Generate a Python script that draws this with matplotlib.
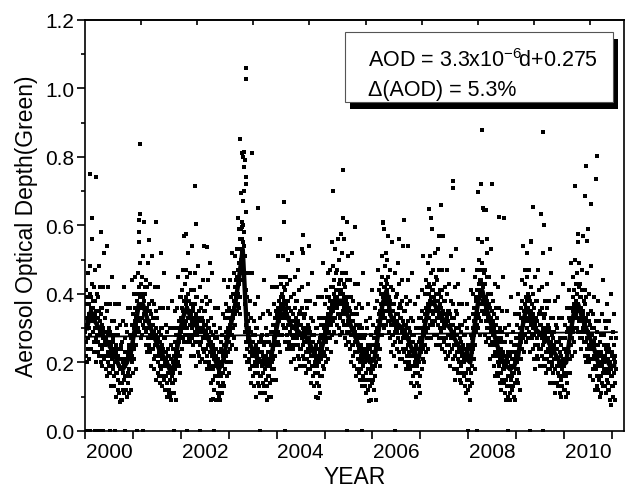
import matplotlib
matplotlib.use("Agg")
import matplotlib.pyplot as plt
from matplotlib.patches import Rectangle
import numpy as np

plt.rcParams['font.family'] = ['Liberation Sans', 'DejaVu Sans']
plt.rcParams['mathtext.fontset'] = 'custom'
plt.rcParams['mathtext.rm'] = 'Liberation Sans'
plt.rcParams['mathtext.it'] = 'Liberation Sans:italic'

first_year = 2000

# monthly mean AOD (Jan..Dec)
monthly_2000 = [0.30, 0.35, 0.32, 0.30, 0.28, 0.26, 0.24, 0.22, 0.19, 0.18, 0.20, 0.23]
monthly_2001 = [0.30, 0.37, 0.37, 0.33, 0.30, 0.27, 0.24, 0.22, 0.20, 0.17, 0.20, 0.27]
monthly_2002 = [0.33, 0.36, 0.33, 0.31, 0.30, 0.30, 0.28, 0.25, 0.21, 0.18, 0.20, 0.26]
monthly_2003 = [0.31, 0.36, 0.44, 0.53, 0.30, 0.25, 0.22, 0.21, 0.20, 0.19, 0.21, 0.27]
monthly_2004 = [0.33, 0.37, 0.34, 0.31, 0.30, 0.29, 0.28, 0.27, 0.25, 0.22, 0.21, 0.25]
monthly_2005 = [0.30, 0.34, 0.38, 0.38, 0.38, 0.35, 0.31, 0.28, 0.25, 0.22, 0.21, 0.20]
monthly_2006 = [0.21, 0.29, 0.37, 0.41, 0.34, 0.31, 0.31, 0.30, 0.28, 0.25, 0.22, 0.21]
monthly_2007 = [0.27, 0.33, 0.38, 0.37, 0.35, 0.33, 0.31, 0.30, 0.27, 0.25, 0.23, 0.21]
monthly_2008 = [0.20, 0.30, 0.38, 0.41, 0.36, 0.32, 0.28, 0.24, 0.21, 0.19, 0.18, 0.19]
monthly_2009 = [0.22, 0.30, 0.36, 0.34, 0.30, 0.29, 0.28, 0.27, 0.25, 0.23, 0.21, 0.19]
monthly_2010 = [0.20, 0.28, 0.35, 0.37, 0.33, 0.30, 0.27, 0.24, 0.20, 0.20, 0.21, 0.19]
monthly_2011 = [0.19]

# daily retrievals, AOD x 100, one string per month
daily_2000 = [
    "29 37 22 31 41 26 33 20 30 39 24 32 46 27 34 21",
    "37 30 40 33 48 28 35 39 24 36 43 32 56 34 29 38",
    "29 36 26 42 32 23 34 38 30 47 27 33 20 35 40 31",
    "31 28 39 23 33 26 48 30 22 35 29 42 25 32 20 36",
    "28 34 24 31 19 36 27 42 22 30 25 52 29 21 33 26",
    "25 33 18 27 37 22 29 16 26 35 20 28 42 23 30 17",
    "26 19 29 22 37 17 24 28 13 25 32 21 45 23 18 27",
    "19 26 16 32 22 13 24 28 20 37 17 23 10 25 30 21",
    "20 17 28 12 22 15 37 19 11 24 18 31 14 21 9 25",
    "18 24 14 21 9 26 17 32 12 20 15 42 19 11 23 16",
    "19 27 12 21 31 16 23 10 20 29 14 22 36 17 24 11",
    "25 18 28 21 36 16 23 27 12 24 31 20 44 22 17 26",
]
daily_2001 = [
    "27 34 24 40 30 21 32 36 28 45 25 31 18 33 38 29",
    "38 35 46 30 40 33 55 37 29 42 36 49 32 39 27 43",
    "37 43 33 40 28 45 36 51 31 39 34 61 38 30 42 35",
    "32 40 25 34 44 29 36 23 33 42 27 35 49 30 37 24",
    "32 25 35 28 43 23 30 34 19 31 38 27 51 29 24 33",
    "24 31 21 37 27 18 29 33 25 42 22 28 15 30 35 26",
    "25 22 33 17 27 20 42 24 16 29 23 36 19 26 14 30",
    "22 28 18 25 13 30 21 36 16 24 19 46 23 15 27 20",
    "19 27 12 21 31 16 23 10 20 29 14 22 36 17 24 11",
    "19 12 22 15 30 10 17 21 9 18 25 14 38 16 11 20",
    "17 24 14 30 20 11 22 26 18 35 15 21 9 23 28 19",
    "28 25 36 20 30 23 45 27 19 32 26 39 22 29 17 33",
]
daily_2002 = [
    "33 39 29 36 24 41 32 47 27 35 30 57 34 26 38 31",
    "35 43 28 37 47 32 39 26 36 45 30 38 52 33 40 27",
    "35 28 38 31 46 26 33 37 22 34 41 30 54 32 27 36",
    "28 35 25 41 31 22 33 37 29 46 26 32 19 34 39 30",
    "31 28 39 23 33 26 48 30 22 35 29 42 25 32 20 36",
    "30 36 26 33 21 38 29 44 24 32 27 54 31 23 35 28",
    "27 35 20 29 39 24 31 18 28 37 22 30 44 25 32 19",
    "27 20 30 23 38 18 25 29 14 26 33 22 46 24 19 28",
    "18 25 15 31 21 12 23 27 19 36 16 22 9 24 29 20",
    "19 16 27 11 21 14 36 18 10 23 17 30 13 20 9 24",
    "20 26 16 23 11 28 19 34 14 22 17 44 21 13 25 18",
    "25 33 18 27 37 22 29 16 26 35 20 28 42 23 30 17",
]
daily_2003 = [
    "33 26 36 29 44 24 31 35 20 32 39 28 52 30 25 34",
    "33 40 30 46 36 27 38 42 34 51 31 37 24 39 44 35",
    "45 42 53 37 47 40 62 44 36 49 43 56 39 46 34 50",
    "53 59 49 56 44 61 52 67 47 55 50 77 54 46 58 51",
    "29 37 22 31 41 26 33 20 30 39 24 32 46 27 34 21",
    "27 20 30 23 38 18 25 29 14 26 33 22 46 24 19 28",
    "19 26 16 32 22 13 24 28 20 37 17 23 10 25 30 21",
    "22 19 30 14 24 17 39 21 13 26 20 33 16 23 11 27",
    "20 26 16 23 11 28 19 34 14 22 17 44 21 13 25 18",
    "18 26 11 20 30 15 22 9 19 28 13 21 35 16 23 10",
    "23 16 26 19 34 14 21 25 10 22 29 18 42 20 15 24",
    "24 31 21 37 27 18 29 33 25 42 22 28 15 30 35 26",
]
daily_2004 = [
    "34 31 42 26 36 29 51 33 25 38 32 45 28 35 23 39",
    "37 43 33 40 28 45 36 51 31 39 34 61 38 30 42 35",
    "33 41 26 35 45 30 37 24 34 43 28 36 50 31 38 25",
    "33 26 36 29 44 24 31 35 20 32 39 28 52 30 25 34",
    "27 34 24 40 30 21 32 36 28 45 25 31 18 33 38 29",
    "30 27 38 22 32 25 47 29 21 34 28 41 24 31 19 35",
    "28 34 24 31 19 36 27 42 22 30 25 52 29 21 33 26",
    "26 34 19 28 38 23 30 17 27 36 21 29 43 24 31 18",
    "27 20 30 23 38 18 25 29 14 26 33 22 46 24 19 28",
    "19 26 16 32 22 13 24 28 20 37 17 23 10 25 30 21",
    "22 19 30 14 24 17 39 21 13 26 20 33 16 23 11 27",
    "25 31 21 28 16 33 24 39 19 27 22 49 26 18 30 23",
]
daily_2005 = [
    "29 37 22 31 41 26 33 20 30 39 24 32 46 27 34 21",
    "36 29 39 32 47 27 34 38 23 35 42 31 55 33 28 37",
    "35 42 32 48 38 29 40 44 36 53 33 39 26 41 46 37",
    "39 36 47 31 41 34 56 38 30 43 37 50 33 40 28 44",
    "38 44 34 41 29 46 37 52 32 40 35 62 39 31 43 36",
    "34 42 27 36 46 31 38 25 35 44 29 37 51 32 39 26",
    "33 26 36 29 44 24 31 35 20 32 39 28 52 30 25 34",
    "25 32 22 38 28 19 30 34 26 43 23 29 16 31 36 27",
    "26 23 34 18 28 21 43 25 17 30 24 37 20 27 15 31",
    "22 28 18 25 13 30 21 36 16 24 19 46 23 15 27 20",
    "20 28 13 22 32 17 24 11 21 30 15 23 37 18 25 12",
    "22 15 25 18 33 13 20 24 9 21 28 17 41 19 14 23",
]
daily_2006 = [
    "18 25 15 31 21 12 23 27 19 36 16 22 9 24 29 20",
    "30 27 38 22 32 25 47 29 21 34 28 41 24 31 19 35",
    "37 43 33 40 28 45 36 51 31 39 34 61 38 30 42 35",
    "40 48 33 42 52 37 44 31 41 50 35 43 57 38 45 32",
    "36 29 39 32 47 27 34 38 23 35 42 31 55 33 28 37",
    "28 35 25 41 31 22 33 37 29 46 26 32 19 34 39 30",
    "32 29 40 24 34 27 49 31 23 36 30 43 26 33 21 37",
    "30 36 26 33 21 38 29 44 24 32 27 54 31 23 35 28",
    "27 35 20 29 39 24 31 18 28 37 22 30 44 25 32 19",
    "27 20 30 23 38 18 25 29 14 26 33 22 46 24 19 28",
    "19 26 16 32 22 13 24 28 20 37 17 23 10 25 30 21",
    "22 19 30 14 24 17 39 21 13 26 20 33 16 23 11 27",
]
daily_2007 = [
    "27 33 23 30 18 35 26 41 21 29 24 51 28 20 32 25",
    "32 40 25 34 44 29 36 23 33 42 27 35 49 30 37 24",
    "40 33 43 36 51 31 38 42 27 39 46 35 59 37 32 41",
    "34 41 31 47 37 28 39 43 35 52 32 38 25 40 45 36",
    "36 33 44 28 38 31 53 35 27 40 34 47 30 37 25 41",
    "33 39 29 36 24 41 32 47 27 35 30 57 34 26 38 31",
    "30 38 23 32 42 27 34 21 31 40 25 33 47 28 35 22",
    "32 25 35 28 43 23 30 34 19 31 38 27 51 29 24 33",
    "24 31 21 37 27 18 29 33 25 42 22 28 15 30 35 26",
    "26 23 34 18 28 21 43 25 17 30 24 37 20 27 15 31",
    "23 29 19 26 14 31 22 37 17 25 20 47 24 16 28 21",
    "20 28 13 22 32 17 24 11 21 30 15 23 37 18 25 12",
]
daily_2008 = [
    "22 15 25 18 33 13 20 24 9 21 28 17 41 19 14 23",
    "27 34 24 40 30 21 32 36 28 45 25 31 18 33 38 29",
    "39 36 47 31 41 34 56 38 30 43 37 50 33 40 28 44",
    "41 47 37 44 32 49 40 55 35 43 38 65 42 34 46 39",
    "35 43 28 37 47 32 39 26 36 45 30 38 52 33 40 27",
    "34 27 37 30 45 25 32 36 21 33 40 29 53 31 26 35",
    "25 32 22 38 28 19 30 34 26 43 23 29 16 31 36 27",
    "25 22 33 17 27 20 42 24 16 29 23 36 19 26 14 30",
    "21 27 17 24 12 29 20 35 15 23 18 45 22 14 26 19",
    "18 26 11 20 30 15 22 9 19 28 13 21 35 16 23 10",
    "20 13 23 16 31 11 18 22 9 19 26 15 39 17 12 21",
    "16 23 13 29 19 10 21 25 17 34 14 20 9 22 27 18",
]
daily_2009 = [
    "23 20 31 15 25 18 40 22 14 27 21 34 17 24 12 28",
    "30 36 26 33 21 38 29 44 24 32 27 54 31 23 35 28",
    "35 43 28 37 47 32 39 26 36 45 30 38 52 33 40 27",
    "36 29 39 32 47 27 34 38 23 35 42 31 55 33 28 37",
    "27 34 24 40 30 21 32 36 28 45 25 31 18 33 38 29",
    "30 27 38 22 32 25 47 29 21 34 28 41 24 31 19 35",
    "28 34 24 31 19 36 27 42 22 30 25 52 29 21 33 26",
    "26 34 19 28 38 23 30 17 27 36 21 29 43 24 31 18",
    "27 20 30 23 38 18 25 29 14 26 33 22 46 24 19 28",
    "20 27 17 33 23 14 25 29 21 38 18 24 11 26 31 22",
    "22 19 30 14 24 17 39 21 13 26 20 33 16 23 11 27",
    "19 25 15 22 10 27 18 33 13 21 16 43 20 12 24 17",
]
daily_2010 = [
    "19 27 12 21 31 16 23 10 20 29 14 22 36 17 24 11",
    "30 23 33 26 41 21 28 32 17 29 36 25 49 27 22 31",
    "32 39 29 45 35 26 37 41 33 50 30 36 23 38 43 34",
    "38 35 46 30 40 33 55 37 29 42 36 49 32 39 27 43",
    "33 39 29 36 24 41 32 47 27 35 30 57 34 26 38 31",
    "29 37 22 31 41 26 33 20 30 39 24 32 46 27 34 21",
    "29 22 32 25 40 20 27 31 16 28 35 24 48 26 21 30",
    "21 28 18 34 24 15 26 30 22 39 19 25 12 27 32 23",
    "21 18 29 13 23 16 38 20 12 25 19 32 15 22 10 26",
    "20 26 16 23 11 28 19 34 14 22 17 44 21 13 25 18",
    "20 28 13 22 32 17 24 11 21 30 15 23 37 18 25 12",
    "21 14 24 17 32 12 19 23 9 20 27 16 40 18 13 22",
]
daily_2011 = [
    "16 23 13 29 19 10 21 25 17 34 14 20 9 22 27 18",
]

# isolated retrievals far from the seasonal band
outlier_year = [2000.10, 2000.23, 2000.15, 2000.33, 2000.46, 2001.15, 2001.14, 2001.13, 2001.12,
                2001.49, 2001.59, 2001.34, 2002.29, 2002.32, 2002.11, 2002.15, 2002.55, 2002.60,
                2003.24, 2003.36, 2003.37, 2003.30, 2003.31, 2003.34, 2003.27, 2003.49, 2003.35,
                2003.36, 2003.31, 2003.26, 2003.61, 2003.37, 2003.66, 2003.30, 2003.28, 2003.22,
                2004.15, 2004.55, 2004.52, 2004.67, 2005.18, 2005.38, 2005.47, 2005.63, 2005.35,
                2005.40, 2006.22, 2006.24, 2006.66, 2006.56, 2006.75, 2007.18, 2007.43, 2007.69,
                2007.69, 2007.22, 2007.38, 2007.75, 2008.20, 2008.29, 2008.26, 2008.50, 2008.32,
                2008.36, 2008.75, 2008.40, 2008.64, 2009.35, 2009.55, 2009.52, 2009.58, 2009.30,
                2009.70, 2010.23, 2010.45, 2010.68, 2010.67, 2010.57, 2010.43, 2010.28, 2010.50,
                2010.47, 2000.73, 2002.67, 2002.62, 2005.93, 2004.87, 2010.98]
outlier_aod = [0.75, 0.74, 0.62, 0.58, 0.54, 0.837, 0.634, 0.615, 0.58,
               0.61, 0.52, 0.556, 0.714, 0.605, 0.576, 0.52, 0.537, 0.49,
               0.853, 1.06, 1.026, 0.80, 0.815, 0.79, 0.81, 0.81, 0.74,
               0.72, 0.70, 0.695, 0.65, 0.64, 0.56, 0.60, 0.595, 0.59,
               0.668, 0.571, 0.53, 0.54, 0.70, 0.76, 0.61, 0.595, 0.575,
               0.56, 0.608, 0.59, 0.615, 0.56, 0.54, 0.648, 0.658, 0.728,
               0.708, 0.62, 0.57, 0.53, 0.697, 0.879, 0.72, 0.72, 0.645,
               0.645, 0.62, 0.56, 0.624, 0.653, 0.873, 0.634, 0.60, 0.555,
               0.53, 0.716, 0.774, 0.803, 0.735, 0.663, 0.687, 0.575, 0.59,
               0.555, 0.084, 0.092, 0.09, 0.087, 0.097, 0.077]

# days flagged with AOD = 0
zero_year = [2000.04, 2000.10, 2000.21, 2000.30, 2000.38, 2000.52, 2000.63, 2000.84, 2001.09,
             2001.21, 2001.86, 2002.13, 2002.40, 2002.69, 2003.65, 2004.18, 2005.47, 2005.78,
             2006.47, 2008.00, 2008.18, 2008.83, 2009.29, 2009.56]

# linear fit: AOD = slope * day + intercept
trend_slope = 3.3e-6
trend_intercept = 0.275
trend_end = 2011.1

monthly_all = [monthly_2000, monthly_2001, monthly_2002, monthly_2003, monthly_2004, monthly_2005,
               monthly_2006, monthly_2007, monthly_2008, monthly_2009, monthly_2010, monthly_2011]
daily_all = [daily_2000, daily_2001, daily_2002, daily_2003, daily_2004, daily_2005,
             daily_2006, daily_2007, daily_2008, daily_2009, daily_2010, daily_2011]

mx, my = [], []
for yi, vals in enumerate(monthly_all):
    for mi, v in enumerate(vals):
        mx.append(first_year + yi + (mi + 0.5) / 12)
        my.append(v)

dx, dy = [], []
for yi, months in enumerate(daily_all):
    for mi, s in enumerate(months):
        vals = [int(t) / 100 for t in s.split()]
        n = len(vals)
        for i, v in enumerate(vals):
            dx.append(first_year + yi + (mi + (i + 0.5) / n) / 12)
            dy.append(v)
dx += outlier_year
dy += outlier_aod

fig = plt.figure(figsize=(6.31, 4.89), dpi=100)
ax = fig.add_axes([0.1347, 0.1166, 0.8543, 0.8411])

ax.plot(dx, dy, 's', color='black', markersize=2.3, markeredgewidth=0, zorder=2)
ax.plot(zero_year, [0] * len(zero_year), 's', color='black', markersize=2.3,
        markeredgewidth=0, zorder=2)
ax.plot(mx, my, '-', color='black', linewidth=3.2, zorder=3)

days = np.array([0, (trend_end - first_year) * 365.25])
ax.plot(first_year + days / 365.25, trend_slope * days + trend_intercept,
        '-', color='black', linewidth=1.3, zorder=4)

ax.set_xlim(2000, 2011.25)
ax.set_ylim(0, 1.2)

ax.set_xticks(np.arange(2000, 2012))
ax.set_xticklabels([])
ax.set_xticks(np.arange(2000.5, 2011, 2), minor=True)
ax.set_xticklabels([str(y) for y in range(2000, 2011, 2)], minor=True)
ax.set_yticks(np.arange(0, 1.21, 0.2))
ax.set_yticklabels([f"{v:.1f}" for v in np.arange(0, 1.21, 0.2)])
ax.set_yticks(np.arange(0.1, 1.2, 0.2), minor=True)

ax.tick_params(axis='x', which='major', direction='out', length=6, width=1.2)
ax.tick_params(axis='x', which='minor', length=0, labelsize=15, pad=8)
ax.tick_params(axis='y', which='major', direction='out', length=5.5, width=1.2, labelsize=15, pad=2)
ax.tick_params(axis='y', which='minor', direction='out', length=3, width=1.2)
for sp in ax.spines.values():
    sp.set_linewidth(1.2)

# inward ticks along the top edge
top = ax.secondary_xaxis('top')
top.set_xticks(2000 + np.arange(1, 10) * 1.171)
top.set_xticklabels([])
top.tick_params(direction='in', length=3.5, width=1.2)
top.spines['top'].set_linewidth(1.2)

ax.set_xlabel("YEAR", fontsize=16.5, labelpad=3)
ax.set_ylabel("Aerosol Optical Depth(Green)", fontsize=16.5, labelpad=5)

# fit annotation with drop shadow
ax.add_patch(Rectangle((0.4912, 0.7837), 0.498, 0.17, transform=ax.transAxes,
                       facecolor='black', edgecolor='none', zorder=5))
ax.add_patch(Rectangle((0.482, 0.80), 0.498, 0.17, transform=ax.transAxes,
                       facecolor='white', edgecolor='#555555', linewidth=0.8, zorder=6))
ax.text(0.525, 0.903, r"AOD = 3.3x10$^{-6}\!$d+0.275", transform=ax.transAxes,
        fontsize=15.5, va='center', ha='left', zorder=7)
ax.text(0.525, 0.831, "\u0394(AOD) = 5.3%", transform=ax.transAxes,
        fontsize=15.5, va='center', ha='left', zorder=7)

fig.savefig("out.png", dpi=100)
